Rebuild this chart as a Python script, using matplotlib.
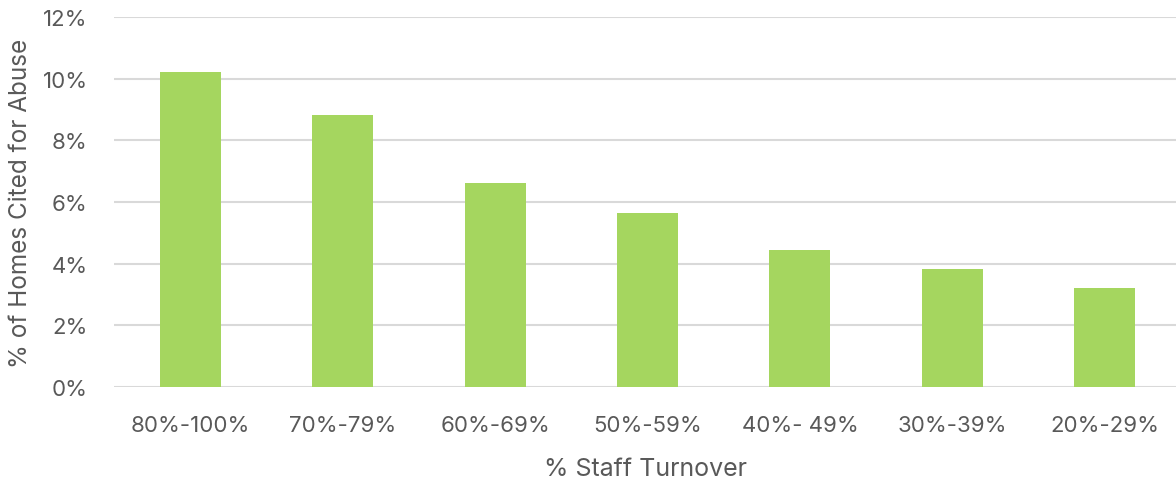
"""
Share of homes cited for abuse by staff turnover band.
"""

import matplotlib.pyplot as plt
import numpy as np
from matplotlib.ticker import PercentFormatter

# Data
# ----------------------------------------------------------------------------

turnover = ['80%-100%', '70%-79%', '60%-69%', '50%-59%', '40%- 49%',
            '30%-39%', '20%-29%']
cited = [10.22, 8.82, 6.62, 5.64, 4.44, 3.83, 3.21]   # [%]

# Plot
# ----------------------------------------------------------------------------

plt.rcParams['font.family'] = ['Inter', 'DejaVu Sans']
text_color = '#595959'
grid_color = '#d9d9d9'

fig = plt.figure(figsize=(11.76, 4.85), dpi=100)
ax = fig.add_axes([114 / 1176, 1 - 388 / 485, 1062 / 1176, 370 / 485])

x = np.arange(len(turnover))
ax.bar(x, cited, width=0.4, color='#a5d65f', zorder=3)

ax.set_xlim(-0.5, 6.5 - 5 / 152.5)
ax.set_ylim(0, 12)
ax.set_yticks(np.arange(0, 13, 2))
ax.yaxis.set_major_formatter(PercentFormatter(decimals=0))
ax.set_xticks(x)
ax.set_xticklabels(turnover)

ax.set_frame_on(False)
ax.set_axisbelow(True)
ax.yaxis.grid(True, color=grid_color, linewidth=1.5)
ax.tick_params(length=0, labelsize=16, colors=text_color)
ax.tick_params(axis='x', pad=20)
ax.tick_params(axis='y', pad=19)

ax.set_xlabel('% Staff Turnover', fontsize=18, color=text_color, labelpad=16)
ax.set_ylabel('% of Homes Cited for Abuse', fontsize=17.5, color=text_color)
ax.yaxis.set_label_coords(-0.077, 0.5)

fig.savefig('out.png', dpi=100)
